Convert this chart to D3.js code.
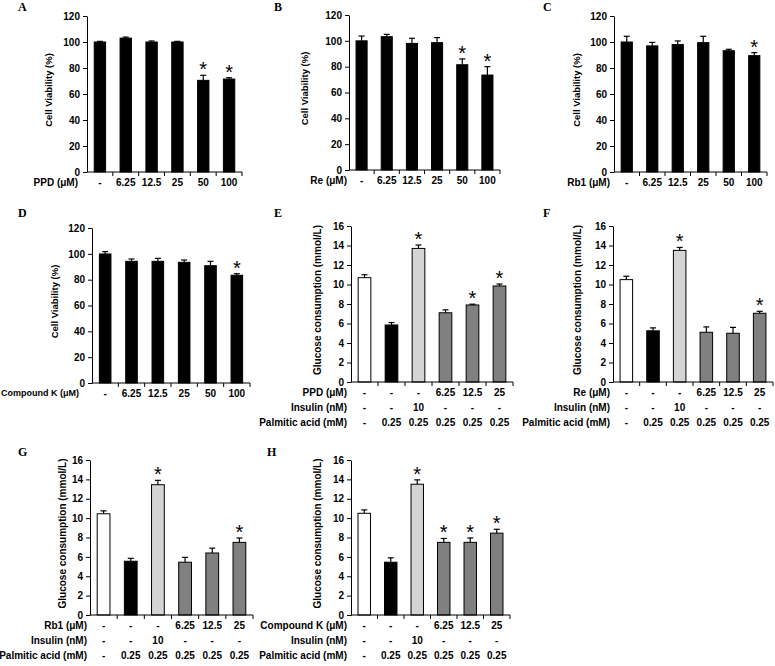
<!DOCTYPE html>
<html>
<head>
<meta charset="utf-8">
<script src="https://cdn.jsdelivr.net/npm/d3@7"></script>
<style>
    body { margin: 0; background: #fff; }
    svg { display: block; }
    text { font-family: "Liberation Sans", Arial, sans-serif; }
    .tick text, .row-label, .cat-label { font-weight: bold; font-size: 10px; }
    .axis-title { font-weight: bold; }
    .panel-letter { font-family: "Liberation Serif", "Times New Roman", serif; font-weight: bold; font-size: 12px; }
</style>
</head>
<body>
<div id="chart"></div>
<script>

// ---- data ----
const viabilityDoses = ["-", "6.25", "12.5", "25", "50", "100"];
const viabilityTicks = [0, 20, 40, 60, 80, 100, 120];

const ppdViability = [100, 103, 100, 100, 70.5, 71.5];
const ppdViabilityErr = [0.5, 0.8, 0.8, 0.5, 3.9, 1];
const ppdViabilityStar = [0, 0, 0, 0, 1, 1];

const reViability = [100, 103.2, 98, 98.6, 81.5, 73.5];
const reViabilityErr = [3.7, 1.8, 4, 3.9, 4.5, 6.5];
const reViabilityStar = [0, 0, 0, 0, 1, 1];

const rb1Viability = [100, 97, 98, 99.5, 93.3, 89.5];
const rb1ViabilityErr = [4.4, 2.7, 2.8, 4.9, 1.1, 2.3];
const rb1ViabilityStar = [0, 0, 0, 0, 0, 1];

const ckViability = [99.9, 94.2, 94.2, 93.4, 90.8, 83.4];
const ckViabilityErr = [1.8, 1.8, 2.3, 1.8, 3.4, 1.2];
const ckViabilityStar = [0, 0, 0, 0, 0, 1];

const glucoseDoses = ["-", "-", "-", "6.25", "12.5", "25"];
const insulinDoses = ["-", "-", "10", "-", "-", "-"];
const palmiticDoses = ["-", "0.25", "0.25", "0.25", "0.25", "0.25"];
const glucoseTicks = [0, 2, 4, 6, 8, 10, 12, 14, 16];

const ppdGlucose = [10.7, 5.85, 13.7, 7.1, 7.9, 9.85];
const ppdGlucoseErr = [0.3, 0.25, 0.35, 0.3, 0.08, 0.2];
const ppdGlucoseStar = [0, 0, 1, 0, 1, 1];

const reGlucose = [10.5, 5.25, 13.5, 5.1, 5.0, 7.05];
const reGlucoseErr = [0.35, 0.3, 0.3, 0.55, 0.6, 0.2];
const reGlucoseStar = [0, 0, 1, 0, 0, 1];

const rb1Glucose = [10.45, 5.55, 13.45, 5.45, 6.4, 7.5];
const rb1GlucoseErr = [0.3, 0.3, 0.45, 0.5, 0.5, 0.45];
const rb1GlucoseStar = [0, 0, 1, 0, 0, 1];

const ckGlucose = [10.5, 5.45, 13.5, 7.5, 7.5, 8.45];
const ckGlucoseErr = [0.35, 0.45, 0.45, 0.4, 0.45, 0.4];
const ckGlucoseStar = [0, 0, 1, 1, 1, 1];

// bar fills for the glucose panels (control, PA, insulin, compound x3)
const glucoseFills = ["#ffffff", "#000000", "#d4d4d4", "#808080", "#808080", "#808080"];

const panels = [
    {letter: "A", lx: 18, ly: 11, left: 87, right: 242, top: 16, bottom: 172, titleX: 49, labelRight: 78,
     kind: "via", compound: "PPD (μM)", values: ppdViability, err: ppdViabilityErr, star: ppdViabilityStar},
    {letter: "B", lx: 274, ly: 11, left: 349, right: 500, top: 15, bottom: 170, titleX: 305, labelRight: 347,
     kind: "via", compound: "Re (μM)", values: reViability, err: reViabilityErr, star: reViabilityStar},
    {letter: "C", lx: 543, ly: 11, left: 614, right: 767, top: 16, bottom: 172, titleX: 577, labelRight: 610,
     kind: "via", compound: "Rb1 (μM)", values: rb1Viability, err: rb1ViabilityErr, star: rb1ViabilityStar},
    {letter: "D", lx: 18, ly: 217, left: 92, right: 250, top: 228, bottom: 383, titleX: 55, labelRight: 79, labelSize: 9,
     kind: "via", compound: "Compound K (μM)", values: ckViability, err: ckViabilityErr, star: ckViabilityStar},
    {letter: "E", lx: 274, ly: 217, left: 351, right: 513, top: 226, bottom: 382, titleX: 318, labelRight: 347,
     kind: "glu", compound: "PPD (μM)", values: ppdGlucose, err: ppdGlucoseErr, star: ppdGlucoseStar},
    {letter: "F", lx: 543, ly: 217, left: 613, right: 773, top: 226, bottom: 382, titleX: 578, labelRight: 610,
     kind: "glu", compound: "Re (μM)", values: reGlucose, err: reGlucoseErr, star: reGlucoseStar},
    {letter: "G", lx: 18, ly: 456, left: 90, right: 253, top: 460, bottom: 615, titleX: 63, labelRight: 87,
     kind: "glu", compound: "Rb1 (μM)", values: rb1Glucose, err: rb1GlucoseErr, star: rb1GlucoseStar},
    {letter: "H", lx: 267, ly: 456, left: 351, right: 510, top: 460, bottom: 615, titleX: 318, labelRight: 347,
     kind: "glu", compound: "Compound K (μM)", values: ckGlucose, err: ckGlucoseErr, star: ckGlucoseStar}
];

const svg = d3.select("#chart").append("svg")
    .attr("width", 775)
    .attr("height", 666);

panels.forEach(p => drawPanel(p));

function drawPanel(p) {
    let isVia = p.kind === "via";
    let g = svg.append("g");

    let x = d3.scaleBand()
        .domain(d3.range(6))
        .range([p.left, p.right])
        .paddingInner(isVia ? 0.56 : 0.53)
        .paddingOuter(isVia ? 0.28 : 0.265);

    let y = d3.scaleLinear()
        .domain(isVia ? [0, 120] : [0, 16])
        .range([p.bottom, p.top]);

    let data = p.values.map((v, i) => ({i: i, v: v, e: p.err[i], s: p.star[i]}));

    // bars
    g.selectAll("rect.bar")
        .data(data)
        .enter().append("rect")
        .attr("class", "bar")
        .attr("x", d => x(d.i))
        .attr("y", d => y(d.v))
        .attr("width", x.bandwidth())
        .attr("height", d => y(0) - y(d.v))
        .attr("fill", d => isVia ? "#000" : glucoseFills[d.i])
        .attr("stroke", "#000")
        .attr("stroke-width", 1);

    // error bars (upper only)
    let eb = g.selectAll("g.err")
        .data(data)
        .enter().append("g")
        .attr("class", "err")
        .attr("stroke", "#000")
        .attr("stroke-width", 1.2);
    eb.append("line")
        .attr("x1", d => x(d.i) + x.bandwidth() / 2)
        .attr("x2", d => x(d.i) + x.bandwidth() / 2)
        .attr("y1", d => y(d.v))
        .attr("y2", d => y(d.v + d.e));
    eb.append("line")
        .attr("x1", d => x(d.i) + x.bandwidth() / 2 - 3)
        .attr("x2", d => x(d.i) + x.bandwidth() / 2 + 3)
        .attr("y1", d => y(d.v + d.e))
        .attr("y2", d => y(d.v + d.e));

    // significance stars
    g.selectAll("text.star")
        .data(data.filter(d => d.s))
        .enter().append("text")
        .attr("class", "star")
        .attr("x", d => x(d.i) + x.bandwidth() / 2)
        .attr("y", d => y(d.v + d.e) + 1)
        .attr("text-anchor", "middle")
        .style("font-size", "20px")
        .text("*");

    // y axis
    let yAxis = d3.axisLeft(y)
        .tickValues(isVia ? viabilityTicks : glucoseTicks)
        .tickSize(4)
        .tickSizeOuter(0)
        .tickPadding(3);
    let yg = g.append("g")
        .attr("transform", `translate(${p.left},0)`)
        .call(yAxis);
    yg.selectAll("path, line").attr("stroke", "#000").attr("stroke-width", 1);
    yg.selectAll("text").attr("fill", "#000");

    // x axis: baseline with Excel-style ticks between categories
    g.append("line")
        .attr("x1", p.left).attr("x2", p.right)
        .attr("y1", y(0)).attr("y2", y(0))
        .attr("stroke", "#000");
    g.selectAll("line.xtick")
        .data(d3.range(6))
        .enter().append("line")
        .attr("class", "xtick")
        .attr("x1", i => x(i) + x.bandwidth() / 2 + x.step() / 2)
        .attr("x2", i => x(i) + x.bandwidth() / 2 + x.step() / 2)
        .attr("y1", y(0))
        .attr("y2", y(0) + 4)
        .attr("stroke", "#000");

    // axis title
    g.append("text")
        .attr("class", "axis-title")
        .attr("transform", `translate(${p.titleX},${(p.top + p.bottom) / 2 - 4}) rotate(-90)`)
        .attr("text-anchor", "middle")
        .attr("dominant-baseline", "middle")
        .style("font-size", isVia ? "9.5px" : "10px")
        .text(isVia ? "Cell Viability (%)" : "Glucose consumption (mmol/L)");

    // treatment rows under the axis
    let rows = isVia
        ? [{name: p.compound, vals: viabilityDoses}]
        : [{name: p.compound, vals: glucoseDoses},
           {name: "Insulin (nM)", vals: insulinDoses},
           {name: "Palmitic acid (mM)", vals: palmiticDoses}];

    rows.forEach((row, r) => {
        let ry = y(0) + 11 + r * 15;
        g.append("text")
            .attr("class", "row-label")
            .attr("x", p.labelRight)
            .attr("y", ry)
            .attr("text-anchor", "end")
            .attr("dominant-baseline", "middle")
            .style("font-size", r === 0 && p.labelSize ? p.labelSize + "px" : null)
            .text(row.name);
        g.selectAll(null)
            .data(row.vals)
            .enter().append("text")
            .attr("class", "cat-label")
            .attr("x", (d, i) => x(i) + x.bandwidth() / 2)
            .attr("y", ry)
            .attr("text-anchor", "middle")
            .attr("dominant-baseline", "middle")
            .text(d => d);
    });

    // panel letter
    g.append("text")
        .attr("class", "panel-letter")
        .attr("x", p.lx)
        .attr("y", p.ly)
        .text(p.letter);
}
</script>
</body>
</html>
